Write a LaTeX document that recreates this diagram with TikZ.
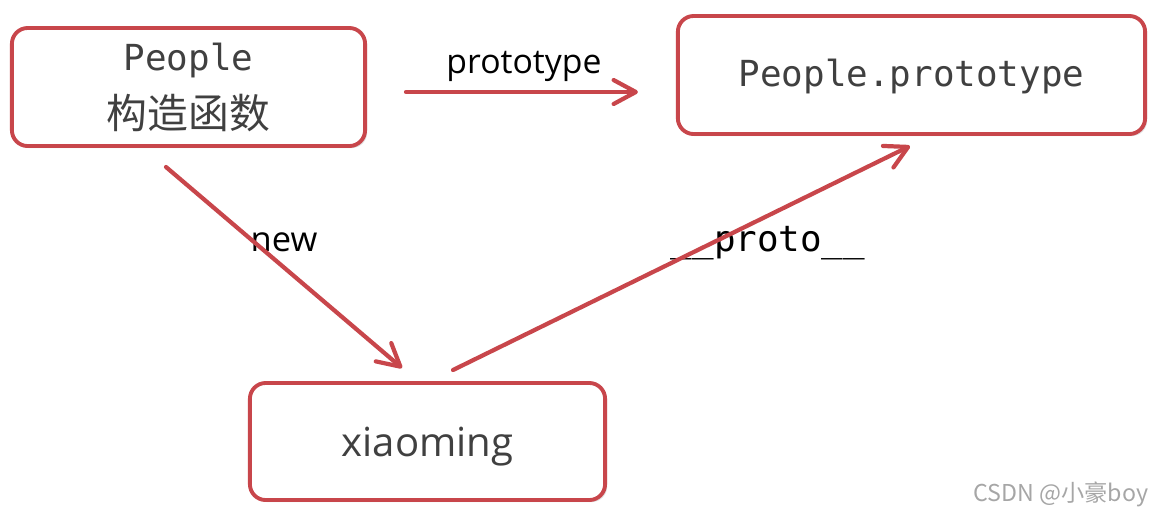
\documentclass[tikz,border=0pt]{standalone}
\usepackage{fontspec}
\setmainfont{Open Sans}
\setmonofont{DejaVu Sans Mono}
\newfontfamily\cjk{Noto Sans CJK SC}
\usepackage{tikz}
\usetikzlibrary{positioning}
\usetikzlibrary{shapes,arrows,shadows,calc}
\usetikzlibrary{arrows.meta}
\definecolor{boxred}{RGB}{200,70,75}
\definecolor{boxtext}{RGB}{64,64,64}

\begin{document}
\begin{tikzpicture}[x=0.01cm, y=-0.01cm,
    box/.style={rectangle, rounded corners=4.5pt, draw=boxred, line width=1.1pt,
        fill=white, text=boxtext, inner sep=0pt, align=center,
        drop shadow={shadow xshift=0.6pt, shadow yshift=-0.6pt, opacity=0.25, fill=gray}},
    link/.style={boxred, line width=1.2pt, line cap=round,
        -{Straight Barb[length=6.3pt, width=6.8pt, round]}},
    lbl/.style={inner sep=0pt, text=black}]
    \useasboundingbox (0,0) rectangle (1162,517);
    \path
        node (people) at (188.5,87) [box, minimum width=3.53cm, minimum height=1.18cm,
            font=\fontsize{10.2}{16.5}\selectfont]
            {{\ttfamily People}\\
             {\cjk\fontsize{11.6}{16.5}\selectfont 构造函数}}
        node (proto) at (911.5,75) [box, minimum width=4.67cm, minimum height=1.18cm,
            text height=9pt, text depth=2.4pt]
            {\ttfamily\fontsize{10.2}{12}\selectfont People.prototype}
        node (xiaoming) at (427.5,441.5) [box, minimum width=3.55cm, minimum height=1.17cm,
            text height=11.4pt, text depth=2.7pt]
            {\fontsize{11.4}{13}\selectfont xiaoming};
    \path
        node (protolbl) at (524,66) [lbl] {\fontsize{9.6}{11}\selectfont prototype}
        node (newlbl) at (284,242) [lbl] {\fontsize{9.8}{11}\selectfont new}
        node (dunder) at (768,243) [lbl] {\ttfamily\fontsize{10.2}{12}\selectfont \_\_proto\_\_}
        node (mark) at (1061,494) [lbl, text=black!35] {\cjk\fontsize{6.6}{8}\selectfont CSDN @小豪boy};
    \coordinate (p1) at ($(people.east)+(39,5)$);
    \coordinate (p2) at ($(proto.west)+(-38,17)$);
    \coordinate (n1) at (166,167);
    \coordinate (n2) at (402,368);
    \coordinate (q1) at (453,370);
    \coordinate (q2) at (910,146);
    \draw[link] (p1) -- (p2);
    \draw[link] (n1) -- (n2);
    \draw[link] (q1) -- (q2);
\end{tikzpicture}
\end{document}
